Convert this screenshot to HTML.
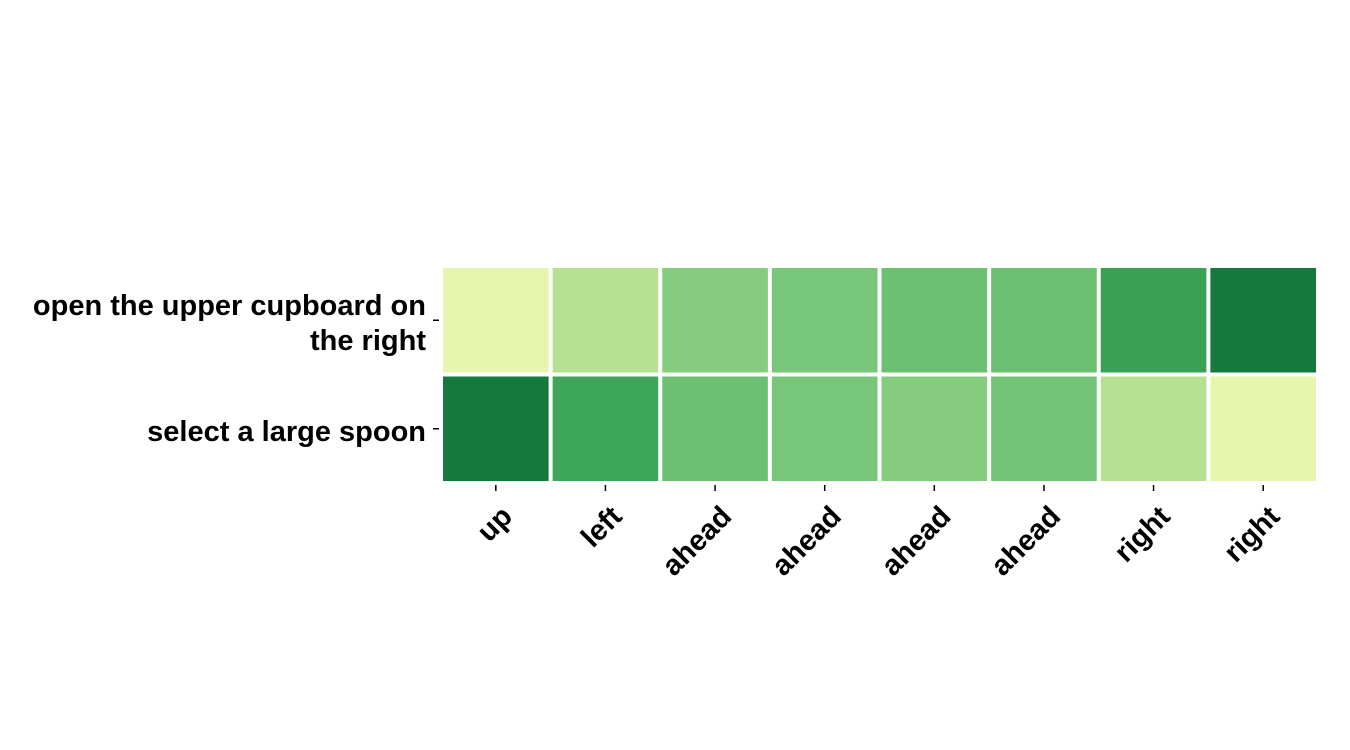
<!DOCTYPE html>
<html><head><meta charset="utf-8"><style>
body{margin:0;background:#fff}
svg{display:block}
text{font-family:"Liberation Sans",sans-serif;font-weight:bold;font-size:29px;fill:#000}
</style></head><body>
<svg id="chart" width="1350" height="750" viewBox="0 0 1350 750"></svg>
<script>
const columns = ["up","left","ahead","ahead","ahead","ahead","right","right"];
const rows = [["open the upper cupboard on","the right"],["select a large spoon"]];
const valuesRow1 = [0.19,0.35,0.47,0.50,0.53,0.53,0.66,0.80];
const valuesRow2 = [0.80,0.64,0.53,0.50,0.47,0.51,0.35,0.19];
const values = [valuesRow1, valuesRow2];

const stops = ["#ffffe5","#f7fcb9","#d9f0a3","#addd8e","#78c679","#41ab5d","#238443","#006837","#004529"];
function hex(c){return [1,3,5].map(i=>parseInt(c.substr(i,2),16));}
function color(t){
  t=Math.max(0,Math.min(1,t));const p=t*(stops.length-1);const i=Math.min(Math.floor(p),stops.length-2);const f=p-i;
  const a=hex(stops[i]),b=hex(stops[i+1]);
  return "rgb("+a.map((v,k)=>Math.round(v+(b[k]-v)*f)).join(",")+")";
}
const NS="http://www.w3.org/2000/svg";
const svg=document.getElementById('chart');
const x0=441,x1=1318,y0=266,y1=483;
const cw=(x1-x0)/columns.length, rh=(y1-y0)/rows.length;
const xPos=i=>x0+i*cw, yPos=j=>y0+j*rh;
function el(t,a){const e=document.createElementNS(NS,t);for(const k in a)e.setAttribute(k,a[k]);svg.appendChild(e);return e;}
values.forEach((row,j)=>row.forEach((v,i)=>{
  const r=el('rect',{x:xPos(i)+2,y:yPos(j)+2,width:cw-4,height:rh-4,fill:color(v)});
  
  
}));
columns.forEach((c,i)=>{
  const cx=xPos(i)+cw/2;
  const t=el('line',{x1:cx,x2:cx,y1:y1+2,y2:y1+8,stroke:'#000','stroke-width':1.5});
  
  
  const tx=el('text',{x:cx+4,y:504,'text-anchor':'end','dominant-baseline':'hanging',transform:`rotate(-45 ${cx+4} 504)`});
  tx.textContent=c;
  
  
});
rows.forEach((lines,j)=>{
  const cy=yPos(j)+rh/2;
  const t=el('line',{x1:433,x2:439,y1:cy,y2:cy,stroke:'#000','stroke-width':1.5});
  
  
  const lh=35, start=cy-(lines.length-1)*lh/2+12;
  lines.forEach((l,k)=>{
    const tx=el('text',{x:426,y:start+k*lh,'text-anchor':'end'});
    tx.textContent=l;
    
    
  });
});
</script>
</body></html>
